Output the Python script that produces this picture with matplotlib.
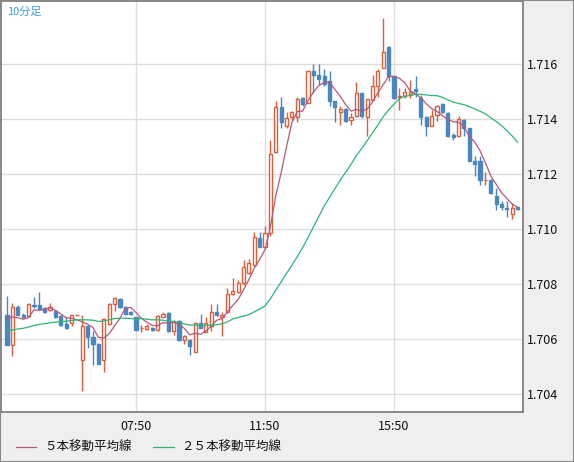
import numpy as np
import pandas as pd
import matplotlib.pyplot as plt
from matplotlib.lines import Line2D
from matplotlib.patches import Rectangle

plt.rcParams['font.family'] = ['Noto Sans CJK JP', 'DejaVu Sans']

# 10分足 OHLC (単位: 0.0001)
opens = [17068.8, 17057.7, 17071.6, 17068.8, 17068.5, 17072.5, 17072.5, 17071.3, 17070.4, 17070.1,
         17068.5, 17065.6, 17065.8, 17068.8, 17052.5, 17064.8, 17060.7, 17058.3, 17052.5, 17065.5,
         17072.7, 17074.7, 17071.6, 17069.7, 17067.9, 17064.0, 17063.6, 17064.0, 17063.4, 17068.2,
         17069.5, 17062.8, 17066.7, 17059.5, 17059.8, 17055.4, 17065.9, 17062.5, 17064.6, 17069.9,
         17068.2, 17069.8, 17076.4, 17077.0, 17080.4, 17084.0, 17086.8, 17096.7, 17093.3, 17098.5,
         17127.9, 17144.4, 17137.3, 17140.6, 17140.6, 17147.6, 17145.8, 17157.6, 17156.0, 17155.8,
         17153.9, 17146.7, 17142.5, 17143.6, 17139.8, 17141.2, 17149.5, 17140.7, 17147.0, 17152.1,
         17158.5, 17166.2, 17155.8, 17148.0, 17148.2, 17149.2, 17150.9, 17147.6, 17140.6, 17137.6,
         17141.6, 17145.5, 17142.2, 17134.3, 17133.7, 17139.8, 17136.7, 17124.9, 17124.9, 17117.7,
         17118.0, 17112.1, 17109.2, 17107.6, 17105.6, 17107.9]
closes = [17057.7, 17071.6, 17068.6, 17068.2, 17072.7, 17071.9, 17071.0, 17069.8, 17071.5, 17068.2,
          17065.2, 17064.2, 17068.6, 17068.8, 17064.7, 17060.6, 17058.2, 17050.9, 17067.4, 17072.7,
          17074.9, 17071.6, 17069.2, 17069.2, 17063.4, 17064.2, 17064.7, 17063.4, 17068.5, 17069.2,
          17062.8, 17066.7, 17059.5, 17061.2, 17057.6, 17065.9, 17064.2, 17065.8, 17069.8, 17068.6,
          17068.8, 17076.4, 17077.6, 17080.4, 17086.2, 17087.6, 17097.1, 17093.3, 17098.5, 17127.4,
          17144.4, 17138.8, 17140.4, 17142.5, 17147.3, 17145.5, 17157.6, 17156.0, 17154.5, 17152.7,
          17146.4, 17144.2, 17143.6, 17139.2, 17140.9, 17149.5, 17141.2, 17147.3, 17152.1, 17157.6,
          17164.4, 17155.8, 17147.6, 17148.5, 17149.7, 17149.7, 17150.1, 17140.6, 17137.6, 17141.0,
          17144.6, 17142.4, 17133.7, 17133.5, 17140.0, 17136.7, 17124.6, 17123.6, 17117.7, 17118.0,
          17113.1, 17109.1, 17108.2, 17107.3, 17107.6, 17107.3]
highs = [17075.5, 17073.3, 17072.5, 17069.5, 17073.0, 17075.2, 17077.2, 17071.5, 17073.3, 17070.4,
         17068.8, 17068.2, 17068.8, 17068.9, 17068.8, 17065.2, 17062.8, 17058.5, 17067.6, 17073.3,
         17075.2, 17074.9, 17071.9, 17070.2, 17068.2, 17065.2, 17065.5, 17064.4, 17068.8, 17070.0,
         17069.7, 17067.0, 17067.0, 17061.6, 17060.2, 17066.2, 17069.2, 17068.2, 17072.7, 17072.7,
         17070.0, 17078.5, 17082.2, 17081.6, 17088.8, 17089.1, 17098.8, 17098.8, 17101.0, 17132.5,
         17146.4, 17148.0, 17142.4, 17142.8, 17148.0, 17148.0, 17157.6, 17160.1, 17160.1, 17158.2,
         17157.3, 17146.7, 17144.6, 17144.0, 17142.2, 17153.3, 17149.5, 17147.3, 17156.1, 17158.2,
         17176.7, 17166.7, 17155.8, 17151.3, 17151.3, 17154.3, 17155.5, 17148.8, 17141.0, 17143.4,
         17145.2, 17145.8, 17142.4, 17134.9, 17141.2, 17140.0, 17136.7, 17126.7, 17126.4, 17120.6,
         17118.2, 17114.9, 17110.3, 17110.3, 17109.5, 17108.2]
lows = [17057.7, 17053.7, 17068.6, 17067.6, 17068.2, 17071.3, 17070.7, 17069.5, 17070.1, 17067.5,
        17064.6, 17063.8, 17064.6, 17068.7, 17041.0, 17056.7, 17050.7, 17050.9, 17048.0, 17065.0,
        17070.3, 17071.3, 17068.8, 17068.8, 17063.2, 17062.4, 17063.3, 17062.9, 17062.8, 17068.0,
        17062.5, 17061.6, 17059.3, 17058.3, 17054.1, 17055.4, 17064.2, 17062.5, 17062.8, 17068.5,
        17061.0, 17069.5, 17076.1, 17076.8, 17079.8, 17083.8, 17086.4, 17093.3, 17093.1, 17097.3,
        17127.6, 17136.7, 17136.7, 17139.8, 17138.8, 17144.6, 17145.8, 17149.5, 17152.5, 17151.9,
        17144.6, 17138.8, 17137.9, 17138.8, 17137.9, 17141.0, 17140.4, 17133.9, 17146.8, 17148.0,
        17158.5, 17153.7, 17147.3, 17143.4, 17147.6, 17147.6, 17148.0, 17137.9, 17133.9, 17137.3,
        17139.1, 17142.2, 17133.5, 17132.2, 17133.7, 17133.7, 17124.6, 17119.4, 17116.1, 17116.1,
        17112.9, 17107.0, 17107.0, 17104.4, 17103.6, 17107.0]
# 表示範囲より前の終値 (移動平均用の推定値)
prior_close = [17058, 17060, 17062, 17061, 17059, 17060, 17063, 17064, 17062, 17061,
               17060, 17062, 17063, 17064, 17062, 17061, 17062, 17063, 17062, 17064,
               17068, 17070, 17071, 17070]
tick_pos = [24, 48, 72]
tick_labels = ['07:50', '11:50', '15:50']

o = np.array(opens) / 1e4
c = np.array(closes) / 1e4
h = np.array(highs) / 1e4
l = np.array(lows) / 1e4
allc = pd.Series(list(np.array(prior_close) / 1e4) + list(c))
n0 = len(prior_close)
ma5 = allc.rolling(5).mean().values[n0:]
ma25 = allc.rolling(25).mean().values[n0:]

up_col = '#d9603b'
dn_col = '#4a86c0'

fig = plt.figure(figsize=(5.74, 4.62), dpi=100, facecolor='#efefef')
fig.add_artist(Rectangle((0, 0), 1, 1, transform=fig.transFigure, fill=False,
                         edgecolor='#888888', lw=1.5))
ax = fig.add_axes([1 / 574, 50 / 462, 522 / 574, 411 / 462])
ax.set_facecolor('white')
x = np.arange(len(c))
w = 0.6
for i in x:
    col = up_col if c[i] >= o[i] else dn_col
    ax.vlines(i, l[i], h[i], color=col, lw=1, zorder=2)
    bot = min(o[i], c[i])
    ht = max(abs(c[i] - o[i]), 0.000004)
    if c[i] >= o[i]:
        ax.add_patch(Rectangle((i - w / 2, bot), w, ht, facecolor='white', edgecolor=col, lw=1, zorder=3))
    else:
        ax.add_patch(Rectangle((i - w / 2, bot), w, ht, facecolor=col, edgecolor=col, lw=1, zorder=3))

ax.plot(x, ma5, color='#b5577f', lw=0.9, zorder=4)
ax.plot(x, ma25, color='#2bb673', lw=0.9, zorder=4)

ax.set_xlim(-1.12, 96.0)
ax.set_ylim(1.70335, 1.71829)
ax.set_xticks(tick_pos)
ax.set_xticklabels(tick_labels)
ax.set_yticks(np.arange(1.704, 1.7161, 0.002))
ax.set_yticklabels(['%.3f' % v for v in np.arange(1.704, 1.7161, 0.002)])
ax.yaxis.tick_right()
ax.tick_params(length=0, labelsize=9, colors='#111111', pad=3)
ax.tick_params(axis='x', pad=6)
ax.grid(color='#dddddd', lw=1, zorder=0)
for s in ax.spines.values():
    s.set_color('#777777')
    s.set_linewidth(1.2)

ax.text(0.012, 0.985, '10分足', transform=ax.transAxes, color='#3aa0e0', fontsize=8, va='top')

fig.add_artist(Line2D([16 / 574, 36 / 574], [15 / 462, 15 / 462], color='#b5577f', lw=0.9))
fig.text(44 / 574, 15 / 462, '５本移動平均線', fontsize=9, va='center', color='#111111')
fig.add_artist(Line2D([153 / 574, 174 / 574], [15 / 462, 15 / 462], color='#2bb673', lw=0.9))
fig.text(181 / 574, 15 / 462, '２５本移動平均線', fontsize=9, va='center', color='#111111')

fig.savefig('out.png', dpi=100, facecolor=fig.get_facecolor())
